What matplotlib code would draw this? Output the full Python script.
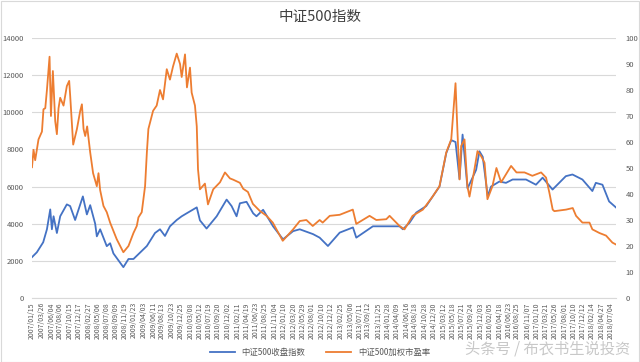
import matplotlib
matplotlib.use("Agg")
import matplotlib.pyplot as plt
import matplotlib.dates as mdates
import numpy as np
from datetime import datetime

plt.rcParams['font.family'] = ['Noto Sans CJK SC', 'DejaVu Sans']

title = "中证500指数"
series_names = ["中证500收盘指数", "中证500加权市盈率"]
watermark = "头条号 / 布衣书生说投资"

tick_labels = [
    "2007/01/15", "2007/03/26", "2007/06/04", "2007/08/06", "2007/10/15", "2007/12/17",
    "2008/02/27", "2008/05/06", "2008/07/08", "2008/09/09", "2008/11/19", "2009/01/23",
    "2009/04/03", "2009/06/11", "2009/08/13", "2009/10/23", "2009/12/25", "2010/03/08",
    "2010/05/12", "2010/07/19", "2010/09/20", "2010/12/02", "2011/02/11", "2011/04/19",
    "2011/06/23", "2011/08/25", "2011/11/04", "2012/01/10", "2012/03/20", "2012/05/29",
    "2012/08/01", "2012/10/10", "2012/12/12", "2013/02/25", "2013/05/06", "2013/07/11",
    "2013/09/12", "2013/11/25", "2014/01/28", "2014/04/09", "2014/06/16", "2014/08/18",
    "2014/10/28", "2014/12/30", "2015/03/12", "2015/05/18", "2015/07/21", "2015/09/24",
    "2015/12/03", "2016/02/05", "2016/04/18", "2016/06/23", "2016/08/25", "2016/11/07",
    "2017/01/10", "2017/03/21", "2017/05/26", "2017/08/01", "2017/10/10", "2017/12/12",
    "2018/02/14", "2018/04/27", "2018/07/04",
]

index_dates = [
    "2007-01-15", "2007-02-19", "2007-04-06", "2007-05-03", "2007-05-27", "2007-06-08",
    "2007-06-20", "2007-07-14", "2007-08-07", "2007-09-24", "2007-10-18", "2007-11-23",
    "2008-01-18", "2008-02-16", "2008-03-11", "2008-04-16", "2008-04-28", "2008-05-22",
    "2008-07-09", "2008-08-02", "2008-08-26", "2008-11-06", "2008-12-13", "2009-01-18",
    "2009-04-25", "2009-06-23", "2009-07-29", "2009-09-03", "2009-10-09", "2009-11-27",
    "2010-01-02", "2010-02-07", "2010-04-21", "2010-05-14", "2010-07-01", "2010-09-12",
    "2010-11-23", "2010-12-29", "2011-02-03", "2011-02-27", "2011-04-16", "2011-06-03",
    "2011-06-27", "2011-08-14", "2011-10-25", "2012-01-05", "2012-03-18", "2012-05-05",
    "2012-08-09", "2012-09-26", "2012-11-25", "2013-02-18", "2013-05-25", "2013-06-18",
    "2013-10-16", "2014-01-21", "2014-04-27", "2014-05-21", "2014-07-08", "2014-08-26",
    "2014-11-06", "2014-12-24", "2015-02-10", "2015-03-31", "2015-05-06", "2015-06-06",
    "2015-07-05", "2015-07-27", "2015-09-01", "2015-11-02", "2015-11-26", "2015-12-20",
    "2016-01-25", "2016-02-18", "2016-04-18", "2016-06-05", "2016-07-23", "2016-10-28",
    "2017-01-08", "2017-02-25", "2017-05-08", "2017-06-25", "2017-08-12", "2017-09-29",
    "2017-12-10", "2018-02-20", "2018-03-17", "2018-05-04", "2018-06-21", "2018-08-09",
]
index_values = [
    2200, 2460, 3000, 3700, 4770, 3700,
    4400, 3500, 4400, 5040, 4950, 4200,
    5470, 4500, 5000, 4000, 3320, 3700,
    2790, 2950, 2400, 1660, 2100, 2100,
    2800, 3500, 3700, 3340, 3860, 4200,
    4400, 4560, 4880, 4180, 3740, 4400,
    5300, 4950, 4400, 5100, 5180, 4560,
    4400, 4750, 3860, 3160, 3600, 3700,
    3440, 3250, 2800, 3520, 3800, 3250,
    3860, 3860, 3860, 3700, 4050, 4600,
    4950, 5480, 6000, 7800, 8500, 8400,
    6400, 8800, 5900, 6900, 7900, 7600,
    5480, 6000, 6270, 6200, 6380, 6380,
    6100, 6480, 5840, 6200, 6560, 6650,
    6380, 5760, 6200, 6100, 5200, 4880,
]

pe_dates = [
    "2007-01-15", "2007-01-26", "2007-02-07", "2007-03-03", "2007-03-28", "2007-04-08",
    "2007-04-21", "2007-05-03", "2007-05-22", "2007-06-01", "2007-06-15", "2007-07-02",
    "2007-07-14", "2007-07-26", "2007-08-07", "2007-08-31", "2007-09-24", "2007-10-11",
    "2007-10-18", "2007-11-09", "2007-12-06", "2007-12-30", "2008-01-11", "2008-01-23",
    "2008-02-04", "2008-02-18", "2008-03-11", "2008-04-01", "2008-04-28", "2008-05-10",
    "2008-05-22", "2008-06-15", "2008-07-09", "2008-08-02", "2008-09-19", "2008-11-06",
    "2008-12-13", "2009-01-18", "2009-02-11", "2009-02-23", "2009-03-19", "2009-04-12",
    "2009-04-25", "2009-05-06", "2009-06-09", "2009-07-05", "2009-07-29", "2009-08-20",
    "2009-09-16", "2009-10-09", "2009-10-31", "2009-11-27", "2009-12-21", "2010-01-02",
    "2010-01-26", "2010-02-09", "2010-03-03", "2010-03-15", "2010-04-08", "2010-04-21",
    "2010-04-30", "2010-05-14", "2010-06-19", "2010-07-11", "2010-08-18", "2010-10-06",
    "2010-11-11", "2010-12-17", "2011-01-10", "2011-02-27", "2011-03-23", "2011-04-26",
    "2011-06-01", "2011-07-21", "2011-09-08", "2011-10-23", "2012-01-03", "2012-03-18",
    "2012-05-05", "2012-06-22", "2012-08-07", "2012-09-26", "2012-10-18", "2012-12-08",
    "2013-02-18", "2013-05-24", "2013-06-18", "2013-09-22", "2013-11-10", "2014-01-21",
    "2014-02-14", "2014-04-27", "2014-06-02", "2014-07-30", "2014-10-13", "2014-12-22",
    "2015-02-10", "2015-03-31", "2015-05-06", "2015-06-06", "2015-06-20", "2015-07-05",
    "2015-07-17", "2015-08-10", "2015-08-31", "2015-09-15", "2015-10-21", "2015-11-12",
    "2015-12-09", "2016-01-02", "2016-01-23", "2016-02-28", "2016-03-28", "2016-05-01",
    "2016-07-12", "2016-08-20", "2016-10-17", "2016-12-13", "2017-02-14", "2017-03-22",
    "2017-04-15", "2017-05-09", "2017-05-21", "2017-08-14", "2017-10-01", "2017-10-25",
    "2017-12-10", "2018-01-30", "2018-02-20", "2018-04-12", "2018-05-30", "2018-07-15",
    "2018-08-09",
]
pe_values = [
    50.3, 57, 53, 61, 64, 72.6,
    73, 80, 92.8, 70, 87.3, 68,
    63, 73, 77, 74, 81.5, 83.5,
    78, 59, 65, 72, 74.5, 65,
    62.3, 66, 56, 48, 43, 48,
    41.5, 35.4, 33, 29, 22.6, 17.6,
    20, 25, 27.7, 31, 33, 43,
    56, 65, 72, 74, 80, 76.4,
    88, 84, 89, 94, 90, 85,
    93.7, 81, 88.6, 79, 74, 66,
    49.5, 41.8, 44, 36, 41.8, 44.5,
    48.3, 46, 45.5, 44.3, 42, 40.8,
    36.2, 33.5, 31.6, 29, 22, 26.4,
    29.6, 30, 27.7, 30, 29, 31.6,
    32, 34, 28.5, 31.6, 30, 30.3,
    31.6, 27.7, 26.4, 31.6, 34, 39,
    43, 56, 61, 82.6, 64, 45.6,
    58.5, 61, 43, 39, 49.5, 56.5,
    54.5, 52, 38, 43, 50, 44.5,
    50.8, 48.3, 48.3, 47, 48.3, 46.3,
    40.5, 34, 33.4, 34, 34.6, 31.6,
    29, 29, 26.4, 25, 24, 21.3,
    20.6,
]

BLUE = "#4472C4"
ORANGE = "#ED7D31"
GRID = "#D9D9D9"
TXT = "#595959"

def to_dt(s, fmt):
    return [datetime.strptime(v, fmt) for v in s]

xi = to_dt(index_dates, "%Y-%m-%d")
xp = to_dt(pe_dates, "%Y-%m-%d")
xt = to_dt(tick_labels, "%Y/%m/%d")

fig = plt.figure(figsize=(6.4, 3.62), dpi=100)
ax = fig.add_axes([32/640, 1-298/362, (616-32)/640, (298-38)/362])
ax2 = ax.twinx()

ax.plot(xi, index_values, color=BLUE, lw=1.3, label=series_names[0], zorder=2)
ax2.plot(xp, pe_values, color=ORANGE, lw=1.3, label=series_names[1], zorder=3)

ax.set_ylim(0, 14000)
ax.set_yticks(np.arange(0, 14001, 2000))
ax2.set_ylim(0, 100)
ax2.set_yticks(np.arange(0, 101, 10))
ax.set_xlim(xt[0], datetime(2018, 8, 10))
ax.set_xticks(xt)
ax.set_xticklabels(tick_labels, rotation=90, fontsize=5, color=TXT)
ax.grid(axis='y', color=GRID, lw=0.8)
ax.set_axisbelow(True)
for a in (ax, ax2):
    for sp in a.spines.values():
        sp.set_visible(False)
    a.tick_params(length=0, colors=TXT)
ax.spines['bottom'].set_visible(True)
ax.spines['bottom'].set_color(GRID)
ax.tick_params(axis='y', labelsize=5.5, pad=6)
ax.tick_params(axis='x', pad=3)
ax2.tick_params(axis='y', labelsize=5.5, pad=7)

fig.text(0.5, 1-17/362, title, ha='center', va='center', fontsize=10.5, color='#404040')

h1, l1 = ax.get_legend_handles_labels()
h2, l2 = ax2.get_legend_handles_labels()
fig.legend(h1 + h2, l1 + l2, loc='center', bbox_to_anchor=(0.5, 1-352/362), ncol=2,
           frameon=False, fontsize=6, handlelength=3, columnspacing=2.5,
           labelcolor=TXT)

fig.text(0.985, 1-349/362, watermark, ha='right', va='center', fontsize=11,
         color='#C8C8C8')

fig.patches.append(plt.Rectangle((0.001, 0.001), 0.998, 0.997, transform=fig.transFigure,
                                 fill=False, edgecolor=GRID, lw=0.8))

fig.savefig("out.png", dpi=100)
